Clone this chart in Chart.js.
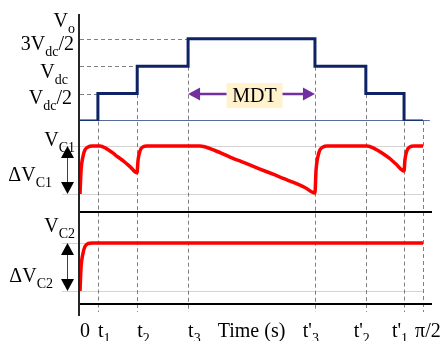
<!DOCTYPE html>
<html>
<head>
<meta charset="utf-8">
<script src="https://cdn.jsdelivr.net/npm/chart.js@4.4.1/dist/chart.umd.min.js"></script>
<style>
  html, body { margin: 0; padding: 0; background: #fff; }
  canvas { display: block; }
</style>
</head>
<body>
<canvas id="chart" width="441" height="341"></canvas>
<script>
// ─── Data ────────────────────────────────────────────
// time axis in rad, 0 .. pi/2
var tickTimes  = [0, 0.082, 0.262, 0.495, 1.076, 1.309, 1.484, 1.571];
var tickLabels = ['0', 't_{1}', 't_{2}', 't_{3}', "t'_{3}", "t'_{2}", "t'_{1}", 'π/2'];

// output voltage (x Vdc), level reached at each tick time
var voLevels   = [0, 0.5, 1, 1.5, 1, 0.5, 0, 0];
var voTickVals = [1.5, 1, 0.5];
var voTickText = ['3V_{dc}/2', 'V_{dc}', 'V_{dc}/2'];

// capacitor C1 voltage, 1 = VC1, 0 = VC1 - dVC1
var vc1Time = [0, 0.005, 0.014, 0.023, 0.037, 0.055,
               0.092, 0.119, 0.147, 0.174, 0.201, 0.229, 0.261,
               0.266, 0.275, 0.288, 0.307,
               0.549, 0.618, 0.687, 0.755, 0.824, 0.893, 0.962, 1.030, 1.076,
               1.081, 1.090, 1.099, 1.113, 1.131,
               1.314, 1.351, 1.383, 1.415, 1.447, 1.484,
               1.488, 1.497, 1.511, 1.529, 1.571];
var vc1Val  = [0, 0.50, 0.79, 0.92, 0.98, 1,
               1, 0.95, 0.865, 0.77, 0.68, 0.57, 0.44,
               0.71, 0.90, 0.98, 1,
               1, 0.906, 0.77, 0.646, 0.52, 0.396, 0.27, 0.135, 0.02,
               0.50, 0.79, 0.92, 0.98, 1,
               1, 0.94, 0.854, 0.75, 0.625, 0.48,
               0.71, 0.90, 0.98, 1, 1];

// capacitor C2 voltage, same units
var vc2Time = [0, 0.005, 0.014, 0.023, 0.037, 0.055, 1.571];
var vc2Val  = [0, 0.50, 0.79, 0.93, 0.99, 1, 1];

var mdtRange = [0.495, 1.076];

// ─── Helpers ─────────────────────────────────────────
var FONT = '"Liberation Serif", "Times New Roman", serif';

function richParts(s) {
    var parts = [], re = /_\{([^}]*)\}/g, last = 0, m;
    while ((m = re.exec(s))) {
        if (m.index > last) parts.push({ t: s.slice(last, m.index), sub: false });
        parts.push({ t: m[1], sub: true });
        last = re.lastIndex;
    }
    if (last < s.length) parts.push({ t: s.slice(last), sub: false });
    return parts;
}

function drawRich(ctx, s, x, y, align, size) {
    var parts = richParts(s), subSize = Math.round(size * 0.72), w = 0;
    parts.forEach(function(p) {
        ctx.font = (p.sub ? subSize : size) + 'px ' + FONT;
        p.w = ctx.measureText(p.t).width;
        w += p.w;
    });
    var cx = align === 'right' ? x - w : align === 'center' ? x - w / 2 : x;
    ctx.textAlign = 'left';
    ctx.textBaseline = 'alphabetic';
    ctx.fillStyle = '#000';
    parts.forEach(function(p) {
        ctx.font = (p.sub ? subSize : size) + 'px ' + FONT;
        ctx.fillText(p.t, cx, p.sub ? y + size * 0.3 : y);
        cx += p.w;
    });
}

function arrowHead(ctx, x, y, dx, dy, len, half) {
    // tip at (x,y), pointing along (dx,dy)
    ctx.beginPath();
    ctx.moveTo(x, y);
    ctx.lineTo(x - dx * len - dy * half, y - dy * len + dx * half);
    ctx.lineTo(x - dx * len + dy * half, y - dy * len - dx * half);
    ctx.closePath();
    ctx.fill();
}

function pts(xs, ys) {
    return xs.map(function(x, i) { return { x: x, y: ys[i] }; });
}

// ─── Decorations ─────────────────────────────────────
var decor = {
    id: 'decor',
    beforeDatasetsDraw: function(chart) {
        var ctx = chart.ctx, a = chart.chartArea, s = chart.scales;
        var x = s.x, yV = s.yV, y1 = s.yC1, y2 = s.yC2;
        ctx.save();

        // light reference lines for capacitor ripple
        ctx.strokeStyle = '#d4d4d4';
        ctx.lineWidth = 1;
        [[y1, 1], [y1, 0], [y2, 1], [y2, 0]].forEach(function(r) {
            var py = Math.round(r[0].getPixelForValue(r[1])) + 0.5;
            ctx.beginPath();
            ctx.moveTo(a.left - 18, py);
            ctx.lineTo(x.getPixelForValue(tickTimes[tickTimes.length - 1]), py);
            ctx.stroke();
        });

        // dashed guides
        ctx.strokeStyle = '#7f7f7f';
        ctx.setLineDash([4, 3]);
        var bottom = a.bottom - 4;
        tickTimes.forEach(function(t, i) {
            if (i === 0) return;
            var lvl = Math.max(voLevels[i], voLevels[i - 1]);
            var px = Math.round(x.getPixelForValue(t)) + 0.5;
            ctx.beginPath();
            ctx.moveTo(px, yV.getPixelForValue(lvl));
            ctx.lineTo(px, bottom);
            ctx.stroke();
        });
        voTickVals.forEach(function(v) {
            var i = voLevels.indexOf(v);
            var py = Math.round(yV.getPixelForValue(v)) + 0.5;
            ctx.beginPath();
            ctx.moveTo(a.left, py);
            ctx.lineTo(x.getPixelForValue(tickTimes[i]), py);
            ctx.stroke();
        });
        ctx.setLineDash([]);

        // panel separators
        ctx.strokeStyle = '#000';
        ctx.lineWidth = 2;
        [y1.getPixelForValue(y1.min), y2.getPixelForValue(-0.27)].forEach(function(py) {
            ctx.beginPath();
            ctx.moveTo(a.left, Math.round(py));
            ctx.lineTo(a.right, Math.round(py));
            ctx.stroke();
        });
        ctx.restore();
    },
    afterDatasetsDraw: function(chart) {
        var ctx = chart.ctx, a = chart.chartArea, s = chart.scales;
        var x = s.x, yV = s.yV, y1 = s.yC1, y2 = s.yC2;
        ctx.save();

        // vertical axis
        ctx.strokeStyle = '#262626';
        ctx.lineWidth = 2;
        ctx.beginPath();
        ctx.moveTo(a.left - 1, a.top);
        ctx.lineTo(a.left - 1, a.bottom);
        ctx.stroke();

        // ripple arrows
        ctx.fillStyle = '#000';
        ctx.strokeStyle = '#404040';
        ctx.lineWidth = 1;
        [y1, y2].forEach(function(sc) {
            var top = sc.getPixelForValue(1), bot = sc.getPixelForValue(0), ax = a.left - 12.5;
            ctx.beginPath();
            ctx.moveTo(ax, top + 6);
            ctx.lineTo(ax, bot - 6);
            ctx.stroke();
            arrowHead(ctx, ax, top, 0, -1, 12, 6.5);
            arrowHead(ctx, ax, bot, 0, 1, 12, 6.5);
        });

        // MDT arrow
        var mx0 = x.getPixelForValue(mdtRange[0]), mx1 = x.getPixelForValue(mdtRange[1]);
        var my = yV.getPixelForValue(0.49);
        ctx.strokeStyle = '#7030a0';
        ctx.fillStyle = '#7030a0';
        ctx.lineWidth = 2.5;
        ctx.beginPath();
        ctx.moveTo(mx0 + 8, my);
        ctx.lineTo(mx1 - 8, my);
        ctx.stroke();
        arrowHead(ctx, mx0, my, -1, 0, 12, 6.5);
        arrowHead(ctx, mx1, my, 1, 0, 12, 6.5);
        var mc = (mx0 + mx1) / 2 + 3;
        ctx.fillStyle = '#fff2cc';
        ctx.fillRect(mc - 28, my - 11, 56, 25);
        drawRich(ctx, 'MDT', mc, my + 8, 'center', 20);

        // left labels
        drawRich(ctx, 'V_{o}', 75, yV.getPixelForValue(1.5) - 11.5, 'right', 20);
        var vx = [74, 68, 72], vdy = [11.5, 12, 10.5];
        voTickVals.forEach(function(v, i) {
            drawRich(ctx, voTickText[i], vx[i], yV.getPixelForValue(v) + vdy[i], 'right', 20);
        });
        drawRich(ctx, 'V_{C1}', 75, y1.getPixelForValue(1), 'right', 20);
        drawRich(ctx, 'ΔV_{C1}', 52, y1.getPixelForValue(0.5) + 11, 'right', 20);
        drawRich(ctx, 'V_{C2}', 75, y2.getPixelForValue(1) - 11, 'right', 20);
        drawRich(ctx, 'ΔV_{C2}', 53, y2.getPixelForValue(0.5) + 15, 'right', 20);

        // time labels
        var by = a.bottom + 21;
        tickLabels.forEach(function(lbl, i) {
            var px = x.getPixelForValue(tickTimes[i]);
            if (i <= 3) drawRich(ctx, lbl, px, by, 'left', 20);
            else if (i < 7) drawRich(ctx, lbl, px + 4, by, 'right', 20);
            else drawRich(ctx, lbl, px - 8, by, 'left', 20);
        });
        drawRich(ctx, 'Time (s)', (mx0 + mx1) / 2, by, 'center', 20);
        ctx.restore();
    }
};

// ─── Chart ───────────────────────────────────────────
function hiddenAxis(extra) {
    var o = {
        ticks: { display: false },
        grid: { display: false },
        border: { display: false },
        afterFit: function(sc) { if (sc.isHorizontal()) sc.height = 0; else sc.width = 0; }
    };
    for (var k in extra) o[k] = extra[k];
    return o;
}

new Chart(document.getElementById('chart').getContext('2d'), {
    type: 'line',
    data: {
        datasets: [
            {
                label: 'baseline', yAxisID: 'yV',
                data: [{ x: 0, y: 0 }, { x: 1.602, y: 0 }],
                borderColor: '#1f3a78', borderWidth: 1.5, pointRadius: 0
            },
            {
                label: 'Vo', yAxisID: 'yV', data: pts(tickTimes, voLevels), stepped: 'before',
                borderColor: '#0d2366', borderWidth: 3, pointRadius: 0
            },
            {
                label: 'VC1', yAxisID: 'yC1', data: pts(vc1Time, vc1Val),
                cubicInterpolationMode: 'monotone',
                borderColor: '#ff0000', borderWidth: 3.5, pointRadius: 0
            },
            {
                label: 'VC2', yAxisID: 'yC2', data: pts(vc2Time, vc2Val),
                cubicInterpolationMode: 'monotone',
                borderColor: '#ff0000', borderWidth: 3.5, pointRadius: 0
            }
        ]
    },
    options: {
        responsive: false,
        animation: false,
        devicePixelRatio: 1,
        layout: { padding: { left: 80, right: 9, top: 14, bottom: 25 } },
        plugins: { legend: { display: false }, tooltip: { enabled: false } },
        scales: {
            x:   hiddenAxis({ type: 'linear', min: 0, max: 1.612 }),
            yC2: hiddenAxis({ type: 'linear', position: 'left', stack: 'p', stackWeight: 104, min: -0.521, max: 1.646 }),
            yC1: hiddenAxis({ type: 'linear', position: 'left', stack: 'p', stackWeight: 91, min: -0.375, max: 1.52 }),
            yV:  hiddenAxis({ type: 'linear', position: 'left', stack: 'p', stackWeight: 107, min: 0, max: 1.95 })
        }
    },
    plugins: [decor]
});
</script>
</body>
</html>
